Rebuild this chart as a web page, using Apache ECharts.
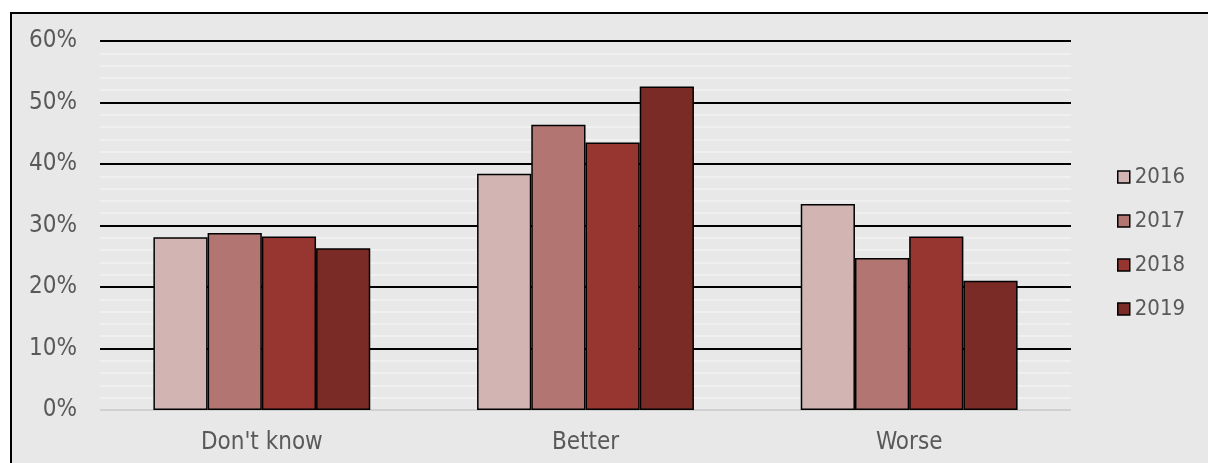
<!DOCTYPE html>
<html>
<head>
<meta charset="utf-8">
<script src="https://cdn.jsdelivr.net/npm/echarts@6/dist/echarts.min.js"></script>
<style>
html,body{margin:0;padding:0;background:#fff;width:1208px;height:463px;overflow:hidden;}
#frame{position:absolute;left:10px;top:12px;width:1210px;height:470px;border:2px solid #000;background:#e8e8e8;box-sizing:border-box;}
#chart{position:absolute;left:0;top:0;width:1208px;height:463px;}
</style>
</head>
<body>
<div id="frame"></div>
<div id="chart"></div>
<script>
const categories = ["Don't know", "Better", "Worse"];
const seriesNames = ["2016", "2017", "2018", "2019"];
const values2016 = [28.1, 38.4, 33.5];
const values2017 = [28.8, 46.4, 24.7];
const values2018 = [28.2, 43.5, 28.2];
const values2019 = [26.3, 52.6, 21.0];
const seriesColors = ["#d2b4b2", "#b37571", "#973531", "#7b2b26"];

const allValues = [values2016, values2017, values2018, values2019];
const font = "DejaVu Sans Condensed";
const chart = echarts.init(document.getElementById('chart'), null, {renderer: 'canvas'});
chart.setOption({
  backgroundColor: 'transparent',
  animation: false,
  textStyle: {fontFamily: font},
  grid: {left: 100, right: 137, top: 41, bottom: 53, containLabel: false},
  legend: {
    orient: 'vertical',
    left: 1112,
    top: 161,
    itemWidth: 12,
    itemHeight: 12,
    itemGap: 22,
    icon: 'rect',
    textStyle: {color: '#595959', fontSize: 22, fontFamily: font},
    itemStyle: {borderColor: '#000', borderWidth: 1.5},
    data: seriesNames
  },
  xAxis: {
    type: 'category',
    data: categories,
    axisLine: {show: false},
    axisTick: {show: false},
    axisLabel: {color: '#595959', fontSize: 24, fontFamily: font, margin: 21}
  },
  yAxis: {
    type: 'value',
    min: 0,
    max: 60,
    interval: 10,
    axisLine: {show: false},
    axisTick: {show: false},
    axisLabel: {color: '#595959', fontSize: 24, fontFamily: font, margin: 23, padding: [6, 0, 0, 0], formatter: '{value}%'},
    splitLine: {lineStyle: {color: ['#d0d0d0', '#000', '#000', '#000', '#000', '#000', '#000'], width: 2}},
    minorTick: {show: false, splitNumber: 5},
    minorSplitLine: {show: true, lineStyle: {color: '#f2f2f2', width: 1.5}}
  },
  series: seriesNames.map((name, i) => ({
    name: name,
    type: 'bar',
    data: allValues[i],
    barGap: '0%',
    barCategoryGap: '33%',
    itemStyle: {color: seriesColors[i], borderColor: '#000', borderWidth: 1.5}
  }))
});
</script>
</body>
</html>
